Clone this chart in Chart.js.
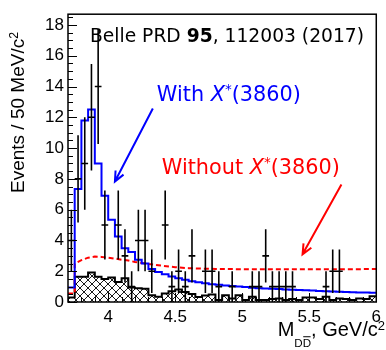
<!DOCTYPE html>
<html>
<head>
<meta charset="utf-8">
<script src="https://cdn.jsdelivr.net/npm/chart.js@4"></script>
<style>
  html, body { margin: 0; padding: 0; background: #fff; }
</style>
</head>
<body>
<canvas id="chart" width="386" height="350"></canvas>
<script>
// bin edges, 50 MeV wide
const binEdges = [3.70, 3.75, 3.80, 3.85, 3.90, 3.95, 4.00, 4.05, 4.10, 4.15, 4.20, 4.25,
  4.30, 4.35, 4.40, 4.45, 4.50, 4.55, 4.60, 4.65, 4.70, 4.75, 4.80, 4.85, 4.90, 4.95,
  5.00, 5.05, 5.10, 5.15, 5.20, 5.25, 5.30, 5.35, 5.40, 5.45, 5.50, 5.55, 5.60, 5.65,
  5.70, 5.75, 5.80, 5.85, 5.90, 5.95, 6.00];

// hatched background histogram (per bin)
const bkgCounts = [0.30, 1.64, 1.64, 1.92, 1.64, 1.50, 1.60, 1.30, 1.55, 0.95, 0.90, 0.86,
  0.44, 0.34, 0.55, 0.70, 0.82, 0.65, 0.52, 0.32, 0.42, 0.48, 0.13, 0.44, 0.23, 0.44,
  0.13, 0.34, 0.13, 0.13, 0.19, 0.23, 0.13, 0.19, 0.13, 0.30, 0.30, 0.19, 0.34, 0.13,
  0.23, 0.19, 0.13, 0.23, 0.19, 0.38];

// fit with X*(3860), blue histogram
const fitWithX = [0.95, 7.35, 11.8, 12.5, 9.0, 6.9, 5.35, 4.25, 3.5, 3.25, 2.75, 2.5,
  2.15, 1.95, 1.8, 1.65, 1.55, 1.45, 1.35, 1.28, 1.22, 1.16, 1.12, 1.08, 1.04, 1.0,
  0.97, 0.93, 0.9, 0.88, 0.86, 0.84, 0.82, 0.8, 0.78, 0.76, 0.74, 0.72, 0.7, 0.68,
  0.67, 0.65, 0.64, 0.62, 0.61, 0.6];

// fit without X*(3860), red dashed curve
const noXMass = [3.70, 3.75, 3.75, 3.80, 3.85, 3.90, 3.95, 4.00, 4.05, 4.10, 4.15, 4.20,
  4.30, 4.40, 4.50, 4.60, 4.70, 4.80, 5.00, 5.25, 5.50, 5.75, 6.00];
const noXVal = [0.55, 0.55, 2.5, 2.72, 2.88, 2.95, 2.93, 2.88, 2.82, 2.75, 2.7, 2.6,
  2.47, 2.36, 2.26, 2.2, 2.17, 2.15, 2.13, 2.12, 2.12, 2.13, 2.14];

// data points (bin centre, events, error)
const ptMass = [3.725, 3.775, 3.825, 3.875, 3.925, 3.975, 4.075, 4.125, 4.175, 4.225, 4.275,
  4.325, 4.425, 4.475, 4.525, 4.575, 4.625, 4.725, 4.775, 4.825, 4.925, 5.075, 5.125,
  5.175, 5.225, 5.275, 5.325, 5.375, 5.625, 5.675, 5.725];
const ptEvents = [4, 8, 9, 12, 14, 5, 5, 3, 1, 4, 4, 2, 5, 1, 2, 1, 3, 2, 2, 1, 1, 1, 1,
  3, 1, 1, 1, 1, 1, 2, 2];
const ptErr = [2, 2.83, 3, 3.46, 3.74, 2.24, 2.24, 1.73, 1, 2, 2, 1.41, 2.24, 1, 1.41, 1,
  1.73, 1.41, 1.41, 1, 1, 1, 1, 1.73, 1, 1, 1, 1, 1, 1.41, 1.41];
const halfBin = 0.025;

const xTicks = [4, 4.5, 5, 5.5, 6];
const yTicks = [0, 2, 4, 6, 8, 10, 12, 14, 16, 18];

const AXIS_FONT = '"Liberation Sans", Arial, sans-serif';
const NOTE_FONT = '"DejaVu Sans", sans-serif';

// histogram as stepped line: one point per left edge + closing point
function histPoints(vals) {
  const pts = vals.map((v, i) => ({ x: binEdges[i], y: v }));
  pts.push({ x: binEdges[vals.length], y: vals[vals.length - 1] });
  return pts;
}

// error bars as broken line segments
function errorBarPoints() {
  const pts = [];
  ptMass.forEach((m, i) => {
    const y = ptEvents[i], e = ptErr[i];
    pts.push({ x: m, y: y - e }, { x: m, y: y + e }, { x: m, y: null });
    pts.push({ x: m - halfBin, y: y }, { x: m + halfBin, y: y }, { x: m + halfBin, y: null });
  });
  return pts;
}

// cross hatch for background
function makeHatch() {
  const c = document.createElement('canvas');
  c.width = 8; c.height = 8;
  const p = c.getContext('2d');
  p.strokeStyle = '#000';
  p.lineWidth = 0.9;
  p.beginPath();
  p.moveTo(-1, -1); p.lineTo(9, 9);
  p.moveTo(9, -1); p.lineTo(-1, 9);
  p.stroke();
  return p.createPattern(c, 'repeat');
}

// draw text made of parts: normal / italic / bold / sup / sub
function drawRich(ctx, parts, x, y, size, family, color, align) {
  const fontOf = p => {
    const s = p.sup ? size * 0.65 : p.sub ? size * 0.58 : size;
    return `${p.italic ? 'italic ' : ''}${p.bold ? 'bold ' : ''}${s}px ${family}`;
  };
  let total = 0;
  parts.forEach(p => { ctx.font = fontOf(p); p.w = ctx.measureText(p.t).width; total += p.w; });
  let cx = align === 'right' ? x - total : x;
  ctx.fillStyle = color;
  ctx.strokeStyle = color;
  ctx.textAlign = 'left';
  ctx.textBaseline = 'alphabetic';
  parts.forEach(p => {
    ctx.font = fontOf(p);
    const dy = p.sup ? -size * 0.32 : p.sub ? size * 0.53 : 0;
    ctx.fillText(p.t, cx, y + dy);
    if (p.over) {
      ctx.lineWidth = 1;
      ctx.beginPath();
      ctx.moveTo(cx + 0.5, y + dy - size * 0.58 * 0.85);
      ctx.lineTo(cx + p.w - 0.5, y + dy - size * 0.58 * 0.85);
      ctx.stroke();
    }
    cx += p.w;
  });
}

function drawArrow(ctx, x0, y0, x1, y1, color) {
  const ang = Math.atan2(y1 - y0, x1 - x0);
  const len = 11, spread = 0.42;
  ctx.strokeStyle = color;
  ctx.lineWidth = 2;
  ctx.beginPath();
  ctx.moveTo(x0, y0);
  ctx.lineTo(x1, y1);
  ctx.moveTo(x1 - len * Math.cos(ang - spread), y1 - len * Math.sin(ang - spread));
  ctx.lineTo(x1, y1);
  ctx.lineTo(x1 - len * Math.cos(ang + spread), y1 - len * Math.sin(ang + spread));
  ctx.stroke();
}

// frame and ROOT-style inner ticks
const framePlugin = {
  id: 'frame',
  afterDatasetsDraw(chart) {
    const { ctx, chartArea: a, scales: { x, y } } = chart;
    ctx.save();
    ctx.strokeStyle = '#000';
    ctx.lineWidth = 1;
    ctx.beginPath();
    for (let k = 0; k <= 37; k++) {
      const v = k * 0.5;
      const py = Math.round(y.getPixelForValue(v)) + 0.5;
      const len = k % 4 === 0 ? 9 : 5;
      ctx.moveTo(a.left, py); ctx.lineTo(a.left + len, py);
    }
    for (let k = 37; k <= 60; k++) {
      const px = Math.round(x.getPixelForValue(k / 10)) + 0.5;
      const len = k % 5 === 0 ? 9 : 5;
      ctx.moveTo(px, a.bottom); ctx.lineTo(px, a.bottom - len);
    }
    ctx.stroke();
    ctx.lineWidth = 1.5;
    ctx.strokeRect(a.left, a.top, a.right - a.left, a.bottom - a.top);
    ctx.restore();
  }
};

// axis titles and annotations
const textPlugin = {
  id: 'texts',
  afterDraw(chart) {
    const { ctx, scales: { x, y } } = chart;
    ctx.save();
    // x title
    drawRich(ctx, [
      { t: 'M' }, { t: 'D', sub: true }, { t: 'D', sub: true, over: true },
      { t: ', GeV/c' }, { t: '2', sup: true }
    ], 385, 336, 20, AXIS_FONT, '#000', 'right');
    // y title
    ctx.save();
    ctx.translate(24, 193);
    ctx.rotate(-Math.PI / 2);
    drawRich(ctx, [{ t: 'Events / 50 MeV/c' }, { t: '2', sup: true }], 0, 0, 19, AXIS_FONT, '#000', 'left');
    ctx.restore();

    drawRich(ctx, [{ t: 'Belle PRD ' }, { t: '95', bold: true }, { t: ', 112003 (2017)' }],
      x.getPixelForValue(3.864), y.getPixelForValue(16.87), 18.7, NOTE_FONT, '#000', 'left');

    drawRich(ctx, [{ t: 'With ' }, { t: 'X', italic: true }, { t: '*', sup: true }, { t: '(3860)' }],
      x.getPixelForValue(4.363), y.getPixelForValue(13.08), 20.8, NOTE_FONT, '#0000ff', 'left');
    drawArrow(ctx, x.getPixelForValue(4.333), y.getPixelForValue(12.57),
      x.getPixelForValue(4.05), y.getPixelForValue(7.83), '#0000ff');

    drawRich(ctx, [{ t: 'Without ' }, { t: 'X', italic: true }, { t: '*', sup: true }, { t: '(3860)' }],
      x.getPixelForValue(4.40), y.getPixelForValue(8.34), 20.8, NOTE_FONT, '#ff0000', 'left');
    drawArrow(ctx, x.getPixelForValue(5.74), y.getPixelForValue(7.64),
      x.getPixelForValue(5.45), y.getPixelForValue(3.10), '#ff0000');
    ctx.restore();
  }
};

const ctx = document.getElementById('chart').getContext('2d');

const chart = new Chart(ctx, {
  type: 'line',
  data: {
    datasets: [
      {
        label: 'Data',
        data: errorBarPoints(),
        borderColor: '#000',
        borderWidth: 1.6,
        pointRadius: 0,
        spanGaps: false,
        order: 0
      },
      {
        label: 'With X*(3860)',
        data: histPoints(fitWithX),
        stepped: true,
        borderColor: '#0000ff',
        borderWidth: 2,
        pointRadius: 0,
        order: 1
      },
      {
        label: 'Without X*(3860)',
        data: noXMass.map((m, i) => ({ x: m, y: noXVal[i] })),
        borderColor: '#ff0000',
        borderWidth: 2,
        borderDash: [5, 3],
        pointRadius: 0,
        order: 2
      },
      {
        label: 'Background',
        data: histPoints(bkgCounts),
        stepped: true,
        borderColor: '#000',
        borderWidth: 2,
        backgroundColor: makeHatch(),
        fill: 'origin',
        pointRadius: 0,
        order: 3
      }
    ]
  },
  options: {
    responsive: false,
    animation: false,
    devicePixelRatio: 1,
    layout: { padding: { top: 6, right: 8, left: 0, bottom: 0 } },
    scales: {
      x: {
        type: 'linear',
        min: 3.7,
        max: 6.0,
        grid: { display: false, drawTicks: false },
        border: { display: false },
        afterBuildTicks: s => { s.ticks = xTicks.map(v => ({ value: v })); },
        afterFit: s => { s.height = 48; },
        ticks: {
          autoSkip: false,
          maxRotation: 0,
          padding: 5,
          color: '#000',
          font: { family: AXIS_FONT, size: 17 },
          callback: v => String(v)
        }
      },
      y: {
        type: 'linear',
        min: 0,
        max: 18.7,
        grid: { display: false, drawTicks: false },
        border: { display: false },
        afterBuildTicks: s => { s.ticks = yTicks.map(v => ({ value: v })); },
        afterFit: s => { s.width = 68; },
        ticks: {
          autoSkip: false,
          padding: 4,
          color: '#000',
          font: { family: AXIS_FONT, size: 17 },
          callback: v => String(v)
        }
      }
    },
    plugins: {
      legend: { display: false },
      tooltip: { enabled: false }
    }
  },
  plugins: [framePlugin, textPlugin]
});
</script>
</body>
</html>
